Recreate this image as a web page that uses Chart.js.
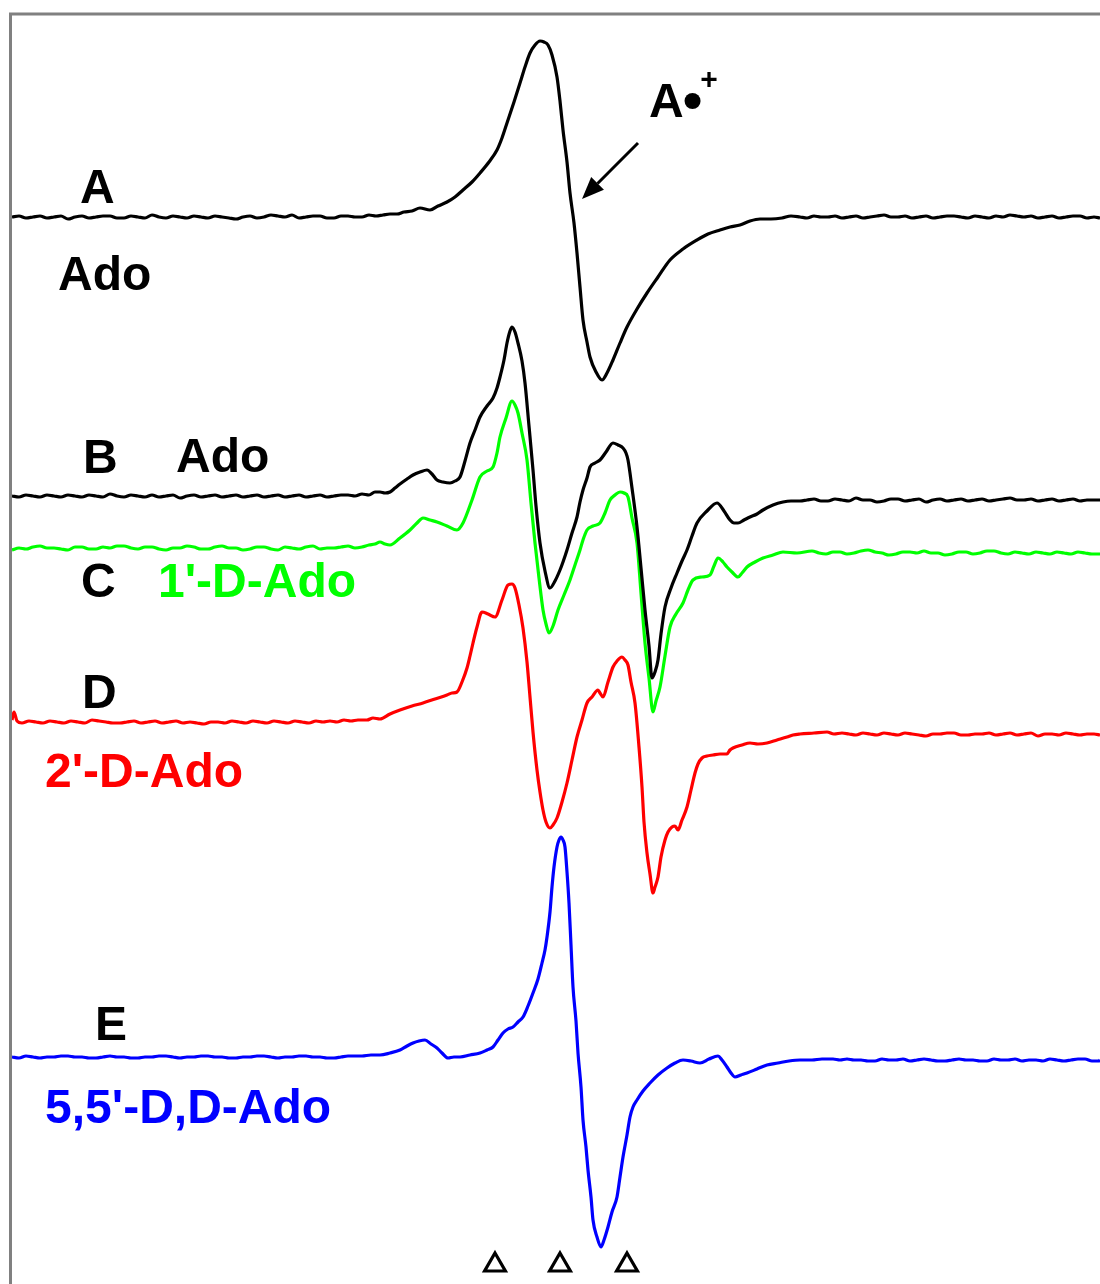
<!DOCTYPE html>
<html><head><meta charset="utf-8">
<script src="https://cdn.jsdelivr.net/npm/chart.js@4.4.1/dist/chart.umd.min.js"></script>
<style>html,body{margin:0;padding:0;background:#fff}#wrap{position:relative;width:1100px;height:1284px}</style>
</head><body><div id="wrap"><canvas id="c"></canvas></div>
<script>
// Field axis: arbitrary field units; signal: arbitrary amplitude units relative to each trace's baseline.
const traceNames = ['A: Ado', 'B: Ado', "C: 1'-D-Ado", "D: 2'-D-Ado", "E: 5,5'-D,D-Ado"];
const traceColors = ['#000000', '#000000', '#00ff00', '#ff0000', '#0000ff'];
const traceOffsets = [1067, 788, 736, 562, 227];

const traceA = [[0,0],[7,1],[14,-1],[21,0],[28,1],[35,-1],[42,0],[49,1],[56,-2],[63,0],[70,1],[77,-1],[84,0],[91,1],[98,1],[105,-1],[112,-1],[119,1],[126,0],[133,-1],[140,2],[147,0],[154,-1],[161,1],[168,0],[175,-1],[182,1],[189,0],[196,-1],[203,1],[210,0],[217,-1],[224,-2],[231,0],[238,1],[245,-1],[252,0],[259,2],[266,1],[273,0],[280,2],[287,-1],[294,0],[301,1],[308,1],[315,-1],[322,-1],[329,1],[336,1],[343,0],[350,0],[357,2],[364,1],[371,2],[378,3],[385,3],[392,5],
[400,6],[408,9],[418,7],[426,11],[435,15],[443,20],[451,27],[460,35],[468,44],[477,55],[485,67],[490,79],[495,94],[502,115],[508,134],[513,150],[518,164],[523,172],[528,176],[532,175],[536,172],[540,162],[545,140],[548,116],[551,87],[555,55],[558,24],[562,-6],[565,-36],[568,-70],[571,-103],[575,-125],[578,-140],[584,-155],[590,-163],[595,-156],[601,-143],[608,-126],[615,-110],[625,-92],[635,-76],[646,-60],[658,-43],[671,-32],[685,-23],[696,-17],[708,-13],[718,-10],[728,-8],[738,-4],[748,-2],[759,-2],[770,-1],[779,1],[788,0],
[795,-1],[802,1],[809,0],[816,0],[823,1],[830,-1],[837,0],[844,1],[851,-1],[858,0],[865,1],[872,2],[879,0],[886,0],[893,1],[900,-1],[907,0],[914,1],[921,-1],[928,0],[935,1],[942,1],[949,0],[956,-1],[963,1],[970,0],[977,-1],[984,1],[991,0],[998,2],[1005,1],[1012,0],[1019,1],[1026,-1],[1033,0],[1040,1],[1047,-1],[1054,0],[1061,1],[1068,1],[1075,-1],[1082,0],[1088,-1]];

const traceB = [[0,0],[7,-1],[14,1],[21,0],[28,-1],[35,1],[42,0],[49,-1],[56,1],[63,0],[70,-1],[77,1],[84,0],[91,-1],[98,2],[105,0],[112,-1],[119,1],[126,0],[133,-1],[140,1],[147,-1],[154,0],[161,1],[168,-2],[175,0],[182,1],[189,-1],[196,0],[203,1],[210,-1],[217,0],[224,1],[231,-1],[238,0],[245,1],[252,-1],[259,0],[266,1],[273,-1],[280,0],[287,1],[294,-1],[301,0],[308,1],[315,-1],[322,0],[329,1],[336,1],[343,0],[350,2],[357,1],[363,4],[368,4],[373,3],[378,4],
[383,8],[388,12],[395,17],[401,21],[408,24],[415,26],[420,22],[425,16],[431,14],[438,13],[443,15],[448,19],[453,35],[458,53],[463,66],[468,79],[475,90],[481,98],[485,108],[488,119],[492,136],[495,153],[498,165],[500,169],[503,164],[506,153],[510,135],[513,113],[517,70],[521,26],[524,-10],[528,-47],[533,-75],[538,-92],[543,-85],[548,-74],[551,-66],[555,-54],[560,-37],[565,-21],[568,-6],[571,6],[575,18],[578,29],[583,33],[588,36],[594,44],[601,53],[606,51],[611,48],[614,43],[616,36],[620,8],[625,-31],[629,-72],[633,-114],[637,-150],[640,-182],[643,-176],[646,-164],[649,-138],[653,-111],[659,-92],[665,-77],[670,-65],[675,-54],[680,-40],[685,-27],[695,-15],[705,-7],[712,-15],[718,-24],[722,-27],[726,-27],[732,-24],[738,-21],[745,-18],[751,-14],[761,-9],[771,-6],[779,-5],[788,-5],
[795,-4],[802,-3],[809,-5],[816,-5],[823,-3],[830,-4],[837,-5],[844,-2],[851,-4],[858,-4],[865,-6],[872,-5],[879,-3],[886,-3],[893,-5],[900,-4],[907,-3],[914,-6],[921,-4],[928,-3],[935,-5],[942,-4],[949,-3],[956,-5],[963,-4],[970,-3],[977,-5],[984,-4],[991,-3],[998,-2],[1005,-4],[1012,-4],[1019,-3],[1026,-5],[1033,-4],[1040,-3],[1047,-5],[1054,-4],[1061,-3],[1068,-5],[1075,-4],[1082,-4],[1088,-4]];

const traceC = [[0,-2],[7,0],[14,-1],[21,1],[28,2],[35,0],[42,0],[49,-1],[56,-2],[63,1],[70,1],[77,-1],[84,-1],[91,1],[98,0],[105,2],[112,2],[119,0],[126,-1],[133,1],[140,1],[147,-1],[154,-2],[161,0],[168,0],[175,2],[182,1],[189,-1],[196,-1],[203,1],[210,2],[217,0],[224,0],[231,-2],[238,-1],[245,1],[252,1],[259,-1],[266,-2],[273,1],[280,0],[287,-1],[294,1],[301,2],[308,-1],[315,0],[322,0],[329,1],[336,2],[343,0],[350,1],[357,3],[363,4],[368,6],[373,4],[378,3],
[388,10],[398,18],[405,25],[411,30],[418,28],[425,26],[435,22],[445,18],[451,25],[460,48],[468,71],[475,77],[481,81],[485,95],[488,111],[494,130],[500,147],[503,143],[506,135],[510,115],[515,88],[519,45],[523,5],[527,-30],[531,-62],[534,-76],[537,-85],[541,-78],[546,-62],[552,-47],[558,-32],[563,-17],[568,-2],[571,8],[575,18],[581,22],[588,25],[593,35],[598,48],[603,53],[608,56],[612,55],[616,51],[620,30],[625,5],[629,-45],[633,-95],[637,-130],[641,-164],[644,-153],[648,-139],[653,-108],[658,-79],[664,-66],[671,-55],[676,-42],[681,-32],[690,-29],[698,-27],[702,-18],[706,-10],[711,-14],[715,-19],[720,-24],[726,-29],[730,-25],[735,-19],[743,-14],[751,-10],[761,-7],[771,-4],[785,-5],
[800,-3],[807,-5],[814,-6],[821,-4],[828,-4],[835,-6],[842,-5],[849,-3],[856,-2],[863,-4],[870,-5],[877,-7],[884,-6],[891,-4],[898,-4],[905,-5],[912,-3],[919,-5],[926,-5],[933,-7],[940,-6],[947,-4],[954,-4],[961,-6],[968,-5],[975,-3],[982,-3],[989,-5],[996,-6],[1003,-4],[1010,-5],[1017,-6],[1024,-4],[1031,-5],[1038,-6],[1045,-4],[1052,-5],[1059,-6],[1066,-4],[1073,-5],[1080,-6],[1088,-6]];

const traceD = [[0,2],[2,10],[5,1],[10,-1],[17,1],[24,0],[31,-1],[38,1],[45,0],[52,-1],[59,1],[66,0],[73,-1],[80,2],[87,1],[94,0],[101,-1],[108,-1],[115,0],[122,1],[129,-1],[136,0],[143,1],[150,-1],[157,0],[164,1],[171,-1],[178,0],[185,-1],[192,-2],[199,0],[206,0],[213,-1],[220,1],[227,0],[234,-1],[241,1],[248,0],[255,-1],[262,1],[269,0],[276,-1],[283,1],[290,0],[297,-1],[304,1],[311,0],[318,1],[325,0],[332,2],[339,1],[346,2],[355,2],[361,4],[368,3],
[378,8],[388,12],[400,16],[411,19],[423,23],[435,27],[440,29],[445,30],[450,40],[455,54],[458,66],[461,79],[465,95],[470,110],[476,108],[483,105],[490,122],[496,137],[500,138],[503,134],[507,117],[511,94],[515,60],[518,25],[521,-10],[525,-48],[528,-70],[531,-88],[534,-100],[538,-106],[541,-103],[545,-96],[550,-80],[555,-61],[560,-38],[565,-15],[570,2],[575,19],[580,25],[586,32],[588,29],[591,25],[596,40],[601,55],[605,61],[610,65],[613,62],[616,57],[619,40],[623,19],[627,-25],[630,-65],[632,-100],[635,-131],[638,-152],[641,-171],[643,-165],[646,-155],[649,-135],[653,-118],[656,-110],[660,-105],[663,-104],[666,-108],[670,-98],[675,-85],[679,-68],[683,-51],[686,-42],[690,-36],[695,-34],[701,-33],[708,-32],[715,-32],[718,-28],[721,-26],[730,-23],[738,-21],[746,-22],[755,-21],[765,-18],[775,-15],[781,-13],[788,-12],[802,-11],[815,-10],
[822,-12],[830,-11],[837,-12],[844,-13],[851,-11],[858,-12],[865,-13],[872,-11],[879,-12],[886,-13],[893,-11],[900,-12],[907,-13],[914,-14],[921,-12],[928,-12],[935,-11],[942,-11],[949,-13],[956,-13],[963,-12],[970,-12],[977,-11],[984,-13],[991,-12],[998,-11],[1005,-13],[1012,-12],[1019,-11],[1026,-14],[1033,-12],[1040,-12],[1047,-13],[1054,-11],[1061,-12],[1068,-13],[1075,-12],[1082,-12],[1088,-13]];

const traceE = [[0,0],[7,-1],[14,1],[21,0],[28,-1],[35,0],[42,0],[49,1],[56,1],[63,0],[70,0],[77,-1],[84,-1],[91,0],[98,1],[105,0],[112,0],[119,-1],[126,-1],[133,0],[140,0],[147,1],[154,1],[161,0],[168,-1],[175,0],[182,0],[189,1],[196,1],[203,0],[210,0],[217,-1],[224,-1],[231,0],[238,0],[245,1],[252,1],[259,0],[266,-1],[273,0],[280,0],[287,1],[294,1],[301,0],[308,0],[315,-1],[322,-1],[329,0],[336,1],[343,1],[350,1],[359,2],[368,2],
[378,4],[388,7],[395,11],[401,14],[407,16],[413,17],[419,13],[425,9],[430,4],[436,-1],[442,0],[448,0],[458,2],[468,4],[475,7],[481,10],[486,17],[491,24],[496,28],[501,30],[506,35],[511,40],[516,51],[521,64],[526,78],[530,94],[533,107],[535,120],[538,145],[540,170],[542,190],[545,210],[547,217],[549,220],[551,217],[553,210],[555,185],[557,154],[559,112],[561,70],[564,36],[566,4],[569,-30],[571,-63],[574,-90],[576,-113],[579,-140],[581,-163],[585,-180],[589,-190],[592,-183],[596,-170],[600,-155],[605,-140],[608,-120],[611,-100],[615,-78],[618,-60],[621,-50],[625,-43],[631,-34],[638,-26],[646,-18],[655,-11],[663,-6],[671,-3],[679,-4],[688,-6],[697,-2],[706,1],[710,-3],[715,-10],[719,-16],[723,-20],[729,-18],[735,-16],[745,-12],[755,-8],[766,-6],[777,-4],[788,-3],[800,-3],[810,-2],[821,-2],[828,-3],
[835,-2],[842,-3],[849,-3],[856,-4],[863,-4],[870,-2],[877,-3],[884,-3],[891,-2],[898,-4],[905,-3],[912,-2],[919,-3],[926,-4],[933,-4],[940,-3],[947,-2],[954,-3],[961,-3],[968,-4],[975,-4],[982,-2],[989,-3],[996,-3],[1003,-2],[1010,-4],[1017,-3],[1024,-3],[1031,-4],[1038,-2],[1045,-3],[1052,-4],[1059,-3],[1066,-2],[1073,-2],[1080,-4],[1087,-4],[1088,-3]];

const traces = [traceA, traceB, traceC, traceD, traceE];

// Hyperfine line positions marked with open triangles
const markerFields = [483, 548, 615];
const markerLevel = [19, 19, 19];

// Text annotations (text, colour, field position, signal level)
const labelTexts = ['A', 'Ado', 'B', 'Ado', 'C', "1'-D-Ado", 'D', "2'-D-Ado", 'E', "5,5'-D,D-Ado"];
const labelColors = ['#000', '#000', '#000', '#000', '#000', '#00ff00', '#000', '#ff0000', '#000', '#0000ff'];
const labelFields = [68, 46, 71, 164, 69, 146, 70, 33, 83, 33];
const labelLevels = [1081, 994, 811, 812, 687, 687, 576, 497, 244, 161];

const datasets = traces.map((t, i) => ({
  label: traceNames[i],
  data: t.map(p => ({x: p[0], y: traceOffsets[i] + p[1]})),
  borderColor: traceColors[i],
  borderWidth: 3.2,
  pointRadius: 0,
  cubicInterpolationMode: 'monotone',
  borderJoinStyle: 'round',
  fill: false
}));
datasets.push({
  type: 'scatter',
  label: 'markers',
  data: markerFields.map((f, i) => ({x: f, y: markerLevel[i]})),
  pointStyle: 'triangle',
  pointRadius: 12,
  borderColor: '#000',
  backgroundColor: '#fff',
  borderWidth: 3.2,
  showLine: false
});

const decor = {
  id: 'decor',
  afterDatasetsDraw(chart) {
    const {ctx, chartArea: a, scales: {x, y}} = chart;
    ctx.save();
    // frame
    ctx.strokeStyle = '#808080';
    ctx.lineWidth = 3;
    ctx.beginPath();
    ctx.moveTo(a.left - 1.5, chart.height);
    ctx.lineTo(a.left - 1.5, a.top);
    ctx.lineTo(chart.width, a.top);
    ctx.stroke();
    // labels
    ctx.font = 'bold 48px "Liberation Sans", Arial, sans-serif';
    ctx.textBaseline = 'alphabetic';
    labelTexts.forEach((t, i) => {
      ctx.fillStyle = labelColors[i];
      ctx.fillText(t, x.getPixelForValue(labelFields[i]), y.getPixelForValue(labelLevels[i]));
    });
    // radical cation label
    ctx.fillStyle = '#000';
    const rx = x.getPixelForValue(637), ry = y.getPixelForValue(1167);
    ctx.fillText('A', rx, ry);
    const wA = ctx.measureText('A').width;
    ctx.font = 'bold 56px "Liberation Sans", Arial, sans-serif';
    ctx.fillText('\u2022', rx + wA - 1, ry + 2);
    const wB = ctx.measureText('\u2022').width;
    ctx.font = 'bold 30px "Liberation Sans", Arial, sans-serif';
    ctx.fillText('+', rx + wA + wB - 3, ry - 28);
    // arrow
    const x0 = x.getPixelForValue(626), y0 = y.getPixelForValue(1141);
    const x1 = x.getPixelForValue(570), y1 = y.getPixelForValue(1085);
    const ang = Math.atan2(y1 - y0, x1 - x0);
    const hl = 22, hw = 9;
    const bx = x1 - hl * Math.cos(ang), by = y1 - hl * Math.sin(ang);
    ctx.strokeStyle = '#000';
    ctx.lineWidth = 3;
    ctx.beginPath();
    ctx.moveTo(x0, y0);
    ctx.lineTo(bx, by);
    ctx.stroke();
    ctx.beginPath();
    ctx.moveTo(x1, y1);
    ctx.lineTo(bx + hw * Math.sin(ang), by - hw * Math.cos(ang));
    ctx.lineTo(bx - hw * Math.sin(ang), by + hw * Math.cos(ang));
    ctx.closePath();
    ctx.fill();
    ctx.restore();
  }
};

new Chart(document.getElementById('c'), {
  type: 'line',
  data: {datasets},
  options: {
    responsive: true,
    maintainAspectRatio: false,
    animation: false,
    layout: {autoPadding: false, padding: {left: 12, top: 14, right: 0, bottom: 0}},
    plugins: {legend: {display: false}, tooltip: {enabled: false}},
    scales: {
      x: {type: 'linear', min: 0, max: 1088, display: false},
      y: {type: 'linear', min: 0, max: 1270, display: false}
    }
  },
  plugins: [decor]
});
</script></body></html>
